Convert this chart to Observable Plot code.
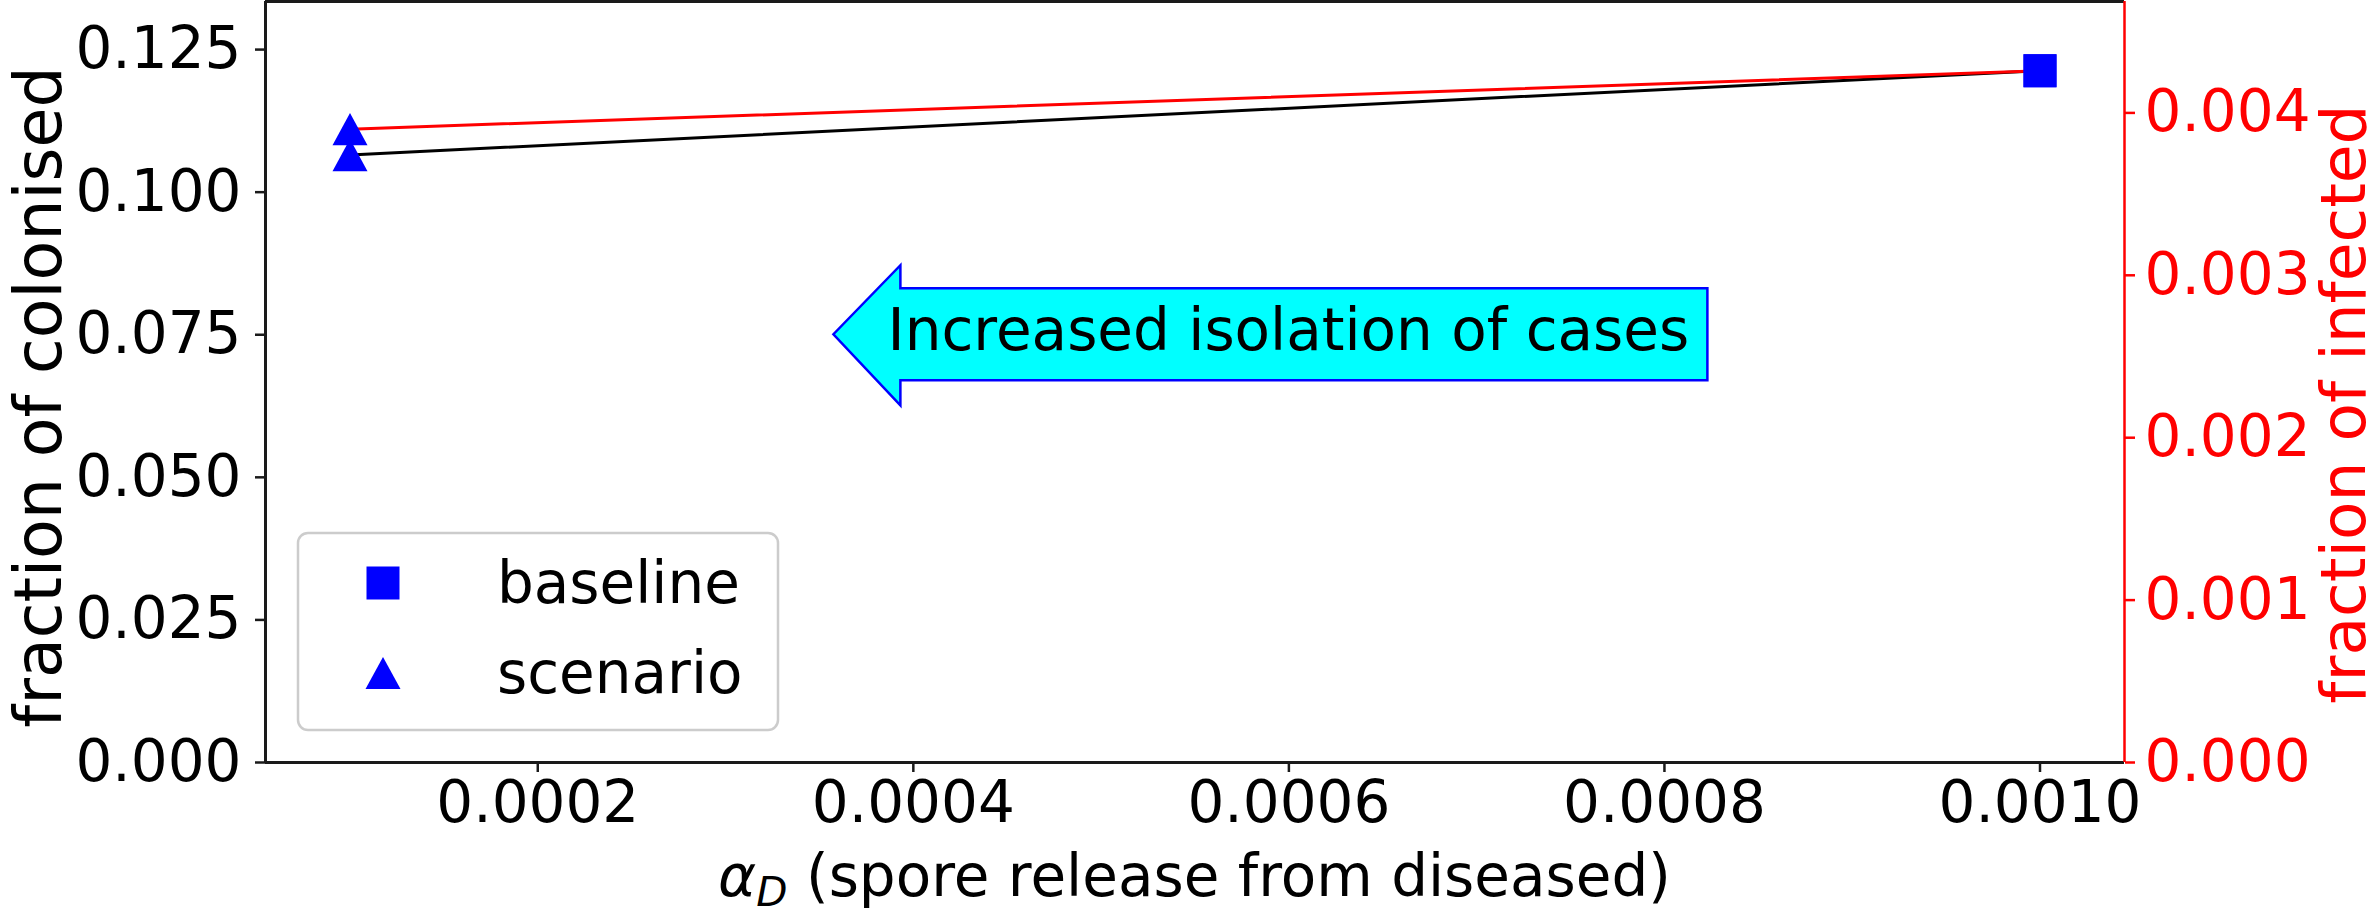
<!DOCTYPE html>
<html><head><meta charset="utf-8">
<script src="https://cdn.jsdelivr.net/npm/d3@7"></script>
<script src="https://cdn.jsdelivr.net/npm/@observablehq/plot@0.6"></script>
<style>
body{margin:0;background:#fff;}
#chart{position:relative;width:2379px;height:917px;}
#chart svg{font-family:"DejaVu Sans",sans-serif;}
</style></head><body><div id="chart"></div>
<script>
// ---- data ----
const alphaD = [0.0001, 0.001];
const kinds = ["scenario", "baseline"];
const colonised = [0.1065, 0.1213];
const infected = [0.0039, 0.00426];
const xTicks = [0.0002, 0.0004, 0.0006, 0.0008, 0.0010];
const xTickLabels = ["0.0002", "0.0004", "0.0006", "0.0008", "0.0010"];
const leftTicks = [0, 0.025, 0.05, 0.075, 0.1, 0.125];
const leftTickLabels = ["0.000", "0.025", "0.050", "0.075", "0.100", "0.125"];
const rightTicks = [0, 0.001, 0.002, 0.003, 0.004];
const rightTickLabels = ["0.000", "0.001", "0.002", "0.003", "0.004"];
const legendLabels = ["baseline", "scenario"];
const annotationText = "Increased isolation of cases";
const annotationX = 0.0006;
const annotationY = 0.075;
const xLabelRest = " (spore release from diseased)";
const yLabelLeft = "fraction of colonised";
const yLabelRight = "fraction of infected";

// ---- derived ----
const rows = alphaD.map((x, i) => ({x, colonised: colonised[i], infected: infected[i], kind: kinds[i]}));
const xMin = d3.min(alphaD), xMax = d3.max(alphaD), xPad = 0.05 * (xMax - xMin);
const xDomain = [xMin - xPad, xMax + xPad];
const yTopLeft = 1.1 * d3.max(colonised);
const yTopRight = 1.1 * d3.max(infected);
const k = yTopLeft / yTopRight;

const W = 2379, H = 917;
const mL = 265, mR = 255, mT = 1, mB = 155;
const FS = 58, LFS = 65, RFS = 63;

const triSym = {draw(ctx, size) { const r = Math.sqrt(size / Math.PI); ctx.moveTo(0, -r * 0.92); ctx.lineTo(r, r * 0.92); ctx.lineTo(-r, r * 0.92); ctx.closePath(); }};
const sqSym = {draw(ctx, size) { const r = Math.sqrt(size / Math.PI); ctx.rect(-r, -r, 2 * r, 2 * r); }};

const leftMap = new Map(leftTicks.map((v, i) => [v, leftTickLabels[i]]));
const xMap = new Map(xTicks.map((v, i) => [v, xTickLabels[i]]));
const rightScaled = rightTicks.map(v => v * k);
const rightMap = new Map(rightScaled.map((v, i) => [v, rightTickLabels[i]]));

const blue = "#0000ff", red = "#ff0000", axisCol = "#1a1a1a";

const plot = Plot.plot({
  width: W, height: H,
  marginLeft: mL, marginRight: mR, marginTop: mT, marginBottom: mB,
  style: {fontSize: FS + "px", fontFamily: "DejaVu Sans, sans-serif", color: "black", background: "white", overflow: "visible"},
  x: {domain: xDomain},
  y: {domain: [0, yTopLeft]},
  marks: [
    Plot.line(rows, {x: "x", y: "colonised", stroke: "black", strokeWidth: 3}),
    Plot.line(rows, {x: "x", y: d => d.infected * k, stroke: red, strokeWidth: 3}),
    Plot.dot(rows.filter(d => d.kind === "baseline"), {x: "x", y: "colonised", symbol: sqSym, r: 16.5, fill: blue, stroke: null}),
    Plot.dot(rows.filter(d => d.kind === "baseline"), {x: "x", y: d => d.infected * k, symbol: sqSym, r: 16.5, fill: blue, stroke: null}),
    Plot.dot(rows.filter(d => d.kind === "scenario"), {x: "x", y: "colonised", symbol: triSym, r: 17.5, fill: blue, stroke: null}),
    Plot.dot(rows.filter(d => d.kind === "scenario"), {x: "x", y: d => d.infected * k, symbol: triSym, r: 17.5, fill: blue, stroke: null}),
    Plot.ruleY([0, yTopLeft], {stroke: axisCol, strokeWidth: 3}),
    Plot.ruleX([xDomain[0]], {stroke: axisCol, strokeWidth: 3}),
    Plot.ruleX([xDomain[1]], {stroke: red, strokeWidth: 2.5}),
    Plot.axisX(xTicks, {tickFormat: d => xMap.get(d), tickSize: 10, tickPadding: 8, strokeWidth: 2.5, stroke: axisCol, fill: "black", label: null}),
    Plot.axisY(leftTicks, {tickFormat: d => leftMap.get(d), tickSize: 10, tickPadding: 14, strokeWidth: 2.5, stroke: axisCol, fill: "black", label: null}),
    Plot.axisY(rightScaled, {anchor: "right", tickFormat: d => rightMap.get(d), tickSize: 10, tickPadding: 10, strokeWidth: 2.5, stroke: red, fill: red, label: null})
  ]
});

document.getElementById("chart").appendChild(plot);

const svg = d3.select(plot);
const sx = plot.scale("x").apply, sy = plot.scale("y").apply;

// annotation arrow (larrow box)
const cx = sx(annotationX), cy = sy(annotationY);
const ag = svg.append("g");
const pts = [
  [cx - 455, cy], [cx - 388, cy - 69], [cx - 388, cy - 46], [cx + 419, cy - 46],
  [cx + 419, cy + 46], [cx - 388, cy + 46], [cx - 388, cy + 71]
];
ag.append("polygon").attr("points", pts.map(p => p.join(",")).join(" "))
  .attr("fill", "#00ffff").attr("stroke", blue).attr("stroke-width", 2.5).attr("stroke-linejoin", "miter");
ag.append("text").attr("x", cx).attr("y", cy + 16).attr("text-anchor", "middle")
  .attr("font-size", FS).attr("fill", "black").text(annotationText);

// legend
const fL = mL, fB = H - mB;
const lg = svg.append("g").attr("text-anchor", "start");
const bx = fL + 33, by = fB - 229, bw = 480, bh = 197;
lg.append("rect").attr("x", bx).attr("y", by).attr("width", bw).attr("height", bh)
  .attr("rx", 10).attr("fill", "white").attr("fill-opacity", 0.8).attr("stroke", "#cccccc").attr("stroke-width", 2.5);
const syms = [sqSym, triSym], rs = [16.5, 17.5];
legendLabels.forEach((lab, i) => {
  const yy = by + 50 + i * 90;
  const path = d3.symbol().type(syms[i]).size(rs[i] * rs[i] * Math.PI)();
  lg.append("path").attr("d", path).attr("transform", `translate(${bx + 85},${yy})`).attr("fill", blue);
  lg.append("text").attr("x", bx + 199).attr("y", yy).attr("dy", "0.35em").attr("text-anchor", "start")
    .attr("font-size", FS).attr("fill", "black").text(lab);
});

// axis labels
const xl = svg.append("text").attr("x", (mL + W - mR) / 2).attr("y", 896).attr("text-anchor", "middle")
  .attr("font-size", FS).attr("fill", "black");
xl.append("tspan").attr("font-style", "italic").text("α");
xl.append("tspan").attr("font-style", "italic").attr("font-size", FS * 0.7).attr("dy", 10).text("D");
xl.append("tspan").attr("dy", -10).text(xLabelRest);

svg.append("text").attr("transform", `translate(61,397) rotate(-90)`).attr("text-anchor", "middle")
  .attr("font-size", LFS).attr("fill", "black").text(yLabelLeft);
svg.append("text").attr("transform", `translate(2365,404) rotate(-90)`).attr("text-anchor", "middle")
  .attr("font-size", RFS).attr("fill", red).text(yLabelRight);
</script>
</body></html>
